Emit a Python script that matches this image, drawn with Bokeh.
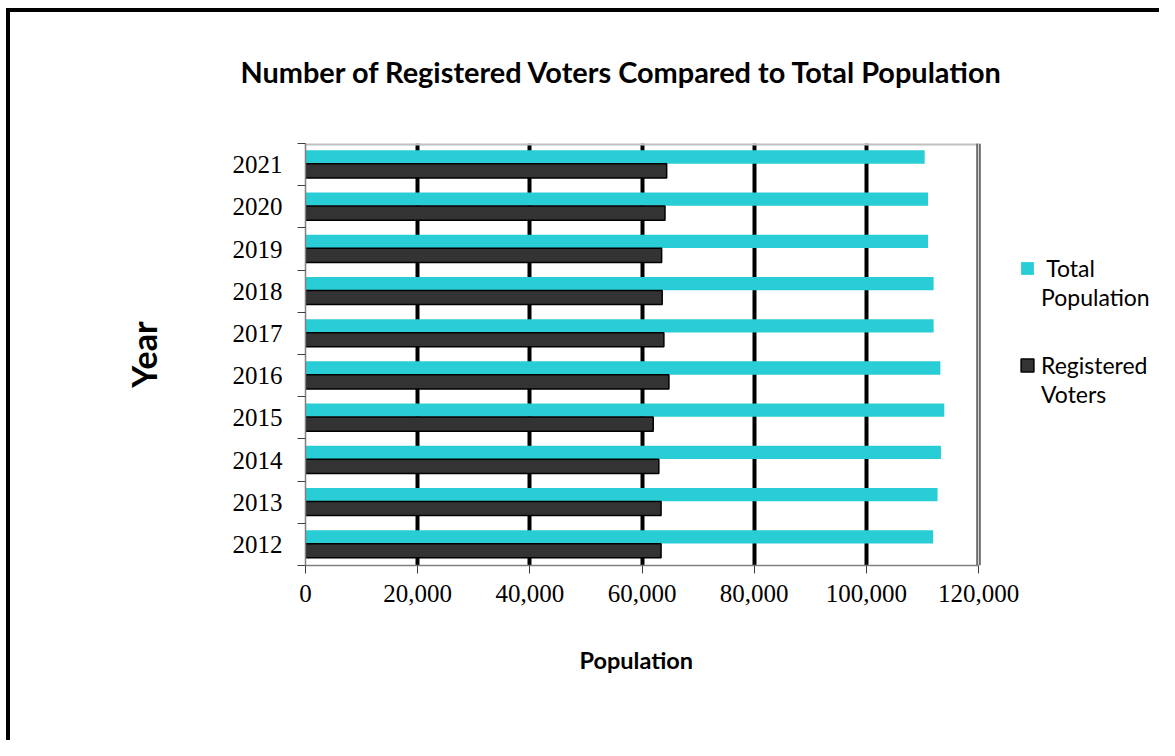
import numpy as np
from bokeh.plotting import figure
from bokeh.models import (Range1d, FixedTicker, NumeralTickFormatter, Title,
                          Legend, LegendItem, ColumnDataSource)
from bokeh.embed import file_html
from bokeh.resources import INLINE

# ---------------- data ----------------
years = ["2012", "2013", "2014", "2015", "2016", "2017", "2018", "2019", "2020", "2021"]
total_population = [111900, 112700, 113300, 113900, 113200, 112000, 112000, 111000, 111000, 110400]
registered_voters = [63400, 63400, 63000, 62000, 64800, 63900, 63600, 63500, 64100, 64400]
x_ticks = [0, 20000, 40000, 60000, 80000, 100000, 120000]
title_text = "Number of Registered Voters Compared to Total Population"
x_title = "Population"
y_title = "Year"
series_names = [(" Total", "Population"), ("Registered", "Voters")]

# ---------------- layout constants ----------------
W, H = 1159, 740
FL, FR, FT, FB = 305, 978, 143, 565   # visible plot-area edges in canvas px
# the Bokeh frame is widened to the canvas edge so the legend can sit inside it
X_MAX = x_ticks[-1]
X_END = X_MAX * (W - FL) / (FR - FL)
N = len(years)

CYAN = "#29CDD6"
DARK = "#333333"
SANS = "Lato"
SERIF = "Liberation Serif"

idx = np.arange(N)
src = ColumnDataSource(dict(
    year=years,
    total=total_population,
    reg=registered_voters,
    y_total=idx + 0.68,
    y_reg=idx + 0.35,
))

p = figure(width=W, height=H, output_backend="svg", toolbar_location=None,
           x_range=Range1d(0, X_END), y_range=Range1d(0, N),
           min_border_left=FL, min_border_right=0,
           min_border_top=FT, min_border_bottom=H - FB)
# outer chart border (left + top) drawn behind a transparent canvas border
p.styles = {"box-shadow": "inset 6px 8px 0 0 white, inset 10px 12px 0 0 black"}
p.background_fill_color = "white"
p.border_fill_alpha = 0
p.outline_line_color = None

# title
p.title.text = title_text
p.title.text_font = SANS
p.title.text_font_style = "bold"
p.title.text_font_size = "28.9px"
p.title.text_color = "black"
p.title.align = "left"
p.title.offset = -65
p.title.vertical_align = "top"
p.title.standoff = 106

# grid
p.ygrid.visible = False
p.xgrid[0].ticker = FixedTicker(ticks=x_ticks[1:-1])
p.xgrid.grid_line_color = "black"
p.xgrid.grid_line_width = 4

# plot-area border: light top line, double right line
p.segment(x0=[0], y0=[N], x1=[X_MAX], y1=[N], line_color="#C0C0C0", line_width=4)
p.segment(x0=[X_MAX], y0=[0], x1=[X_MAX], y1=[N], line_color="#5E5E5E", line_width=4.5)
p.segment(x0=[X_MAX], y0=[0], x1=[X_MAX], y1=[N], line_color="#D4D4D4", line_width=1.2)

# bars
r_total = p.hbar(y="y_total", left=0, right="total", height=0.315, source=src,
                 fill_color=CYAN, line_color=None)
r_reg = p.hbar(y="y_reg", left=0, right="reg", height=0.335, source=src,
               fill_color=DARK, line_color="black", line_width=1.5)
r_blank = p.hbar(y=[], left=[], right=[], height=0.1, fill_alpha=0, line_alpha=0)

# x axis
xax = p.xaxis[0]
xax.bounds = (0, X_MAX)
xax.ticker = FixedTicker(ticks=x_ticks, minor_ticks=[])
xax.formatter = NumeralTickFormatter(format="0,0")
xax.major_tick_out = 8
xax.major_tick_in = 0
xax.major_tick_line_color = "#404040"
xax.axis_line_color = "#808080"
xax.axis_line_width = 1.5
xax.major_label_text_font = SERIF
xax.major_label_text_font_size = "25px"
xax.major_label_text_color = "black"
xax.major_label_standoff = 11

# x axis title (placed as a title below the axis so it centres on the plot area)
p.add_layout(Title(text=x_title, text_font=SANS, text_font_style="bold",
                   text_font_size="23.5px", text_color="black",
                   align="left", offset=274, vertical_align="top",
                   standoff=83), "below")

# y axis (labels at band centres, ticks at band boundaries)
yax = p.yaxis[0]
yax.ticker = FixedTicker(ticks=[float(i) + 0.5 for i in idx],
                         minor_ticks=[float(i) for i in range(N + 1)])
yax.major_label_overrides = {float(i) + 0.5: y for i, y in zip(idx, years)}
yax.major_tick_out = 0
yax.major_tick_in = 0
yax.major_tick_line_color = None
yax.minor_tick_out = 8
yax.minor_tick_in = 0
yax.minor_tick_line_color = "#404040"
yax.axis_line_color = "#808080"
yax.axis_line_width = 1.5
yax.major_label_text_font = SERIF
yax.major_label_text_font_size = "25px"
yax.major_label_text_color = "black"
yax.major_label_standoff = 15
yax.axis_label = y_title
yax.axis_label_text_font = SANS
yax.axis_label_text_font_style = "bold"
yax.axis_label_text_font_size = "34px"
yax.axis_label_text_color = "black"
yax.axis_label_standoff = 66


# legends (one per series, two text lines each)
def make_legend(r, names, vy):
    leg = Legend(items=[LegendItem(label=names[0], renderers=[r]),
                        LegendItem(label=names[1], renderers=[r_blank])],
                 location=(714, vy))
    leg.border_line_color = None
    leg.background_fill_alpha = 0
    leg.padding = 0
    leg.margin = 0
    leg.spacing = 0
    leg.label_height = 29
    leg.glyph_height = 16
    leg.glyph_width = 16
    leg.label_standoff = 6
    leg.label_text_font = SANS
    leg.label_text_font_size = "23px"
    leg.label_text_color = "black"
    return leg


p.add_layout(make_legend(r_total, series_names[0], 254))
p.add_layout(make_legend(r_reg, series_names[1], 157))

open("out.html", "w").write(file_html(p, INLINE))
